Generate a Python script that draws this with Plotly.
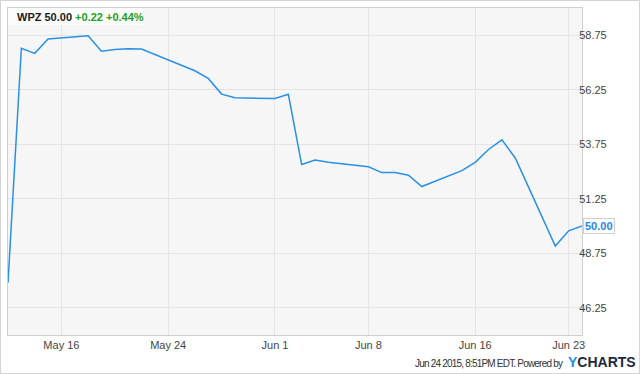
import plotly.graph_objects as go

dates = ["2015-05-12", "2015-05-13", "2015-05-14", "2015-05-15", "2015-05-18",
         "2015-05-19", "2015-05-20", "2015-05-21", "2015-05-22", "2015-05-26",
         "2015-05-27", "2015-05-28", "2015-05-29", "2015-06-01", "2015-06-02",
         "2015-06-03", "2015-06-04", "2015-06-05", "2015-06-08", "2015-06-09",
         "2015-06-10", "2015-06-11", "2015-06-12", "2015-06-15", "2015-06-16",
         "2015-06-17", "2015-06-18", "2015-06-19", "2015-06-22", "2015-06-23",
         "2015-06-24"]
prices = [47.40, 58.15, 57.92, 58.58, 58.73,
          58.02, 58.10, 58.13, 58.12, 57.12,
          56.77, 56.05, 55.88, 55.85, 56.04,
          52.82, 53.03, 52.92, 52.72, 52.45,
          52.45, 52.33, 51.81, 52.54, 52.92,
          53.51, 53.95, 53.12, 49.08, 49.78,
          50.00]

x_tick_vals = ["2015-05-16", "2015-05-24", "2015-06-01", "2015-06-08", "2015-06-16", "2015-06-23"]
x_tick_text = ["May 16", "May 24", "Jun 1", "Jun 8", "Jun 16", "Jun 23"]
y_tick_vals = [46.25, 48.75, 51.25, 53.75, 56.25, 58.75]
y_tick_text = ["46.25", "48.75", "51.25", "53.75", "56.25", "58.75"]

ticker = "WPZ"
last_price = "50.00"
change_text = "+0.22 +0.44%"
footer_text = "Jun 24 2015, 8:51PM EDT. Powered by"

FONT = "Liberation Sans, Arial, sans-serif"

fig = go.Figure()
fig.add_trace(go.Scatter(x=dates, y=prices, mode="lines",
                         line=dict(color="#2a90e6", width=1.5),
                         hoverinfo="skip", showlegend=False))

W, H = 640, 374
L, R, T, B = 8, 58, 8, 39
pw = W - L - R
ph = H - T - B

def px(xp):
    return (xp - L) / pw

def py(yp):
    return (H - B - yp) / ph

fig.update_layout(
    width=W, height=H,
    margin=dict(l=L, r=R, t=T, b=B, autoexpand=False),
    paper_bgcolor="white",
    plot_bgcolor="#f6f6f6",
    font=dict(family=FONT, size=11, color="#444"),
    xaxis=dict(type="date", range=[dates[0], dates[-1]],
               tickvals=x_tick_vals, ticktext=x_tick_text,
               showgrid=True, gridcolor="#e4e4e4", gridwidth=1,
               showline=True, linecolor="#cfcfcf", linewidth=1, mirror=True,
               ticks="", zeroline=False,
               tickfont=dict(size=11, color="#444", family=FONT)),
    yaxis=dict(range=[45, 60], side="right",
               tickvals=y_tick_vals, ticktext=y_tick_text,
               showgrid=True, gridcolor="#e4e4e4", gridwidth=1,
               showline=True, linecolor="#cfcfcf", linewidth=1, mirror=True,
               ticks="", zeroline=False, ticklabelstandoff=-6,
               tickfont=dict(size=11, color="#444", family=FONT)),
    shapes=[
        dict(type="rect", xref="paper", yref="paper",
             x0=px(0.5), x1=px(639.5), y0=py(373.5), y1=py(0.5),
             line=dict(color="#d4d4d4", width=1), fillcolor="rgba(0,0,0,0)",
             layer="above"),
        dict(type="rect", xref="paper", yref="paper",
             x0=0, x1=px(143), y0=py(25), y1=1,
             line=dict(width=0), fillcolor="rgba(255,255,255,0.7)",
             layer="above"),
    ],
    annotations=[
        dict(xref="paper", yref="paper", x=px(15), y=py(16.5),
             xanchor="left", yanchor="middle", showarrow=False,
             text=f"<b>{ticker} {last_price}</b> <b><span style='color:#22a022'>{change_text}</span></b>",
             font=dict(family=FONT, size=11, color="#1a1a1a")),
        dict(xref="paper", yref="y", x=1, y=float(last_price),
             xanchor="left", yanchor="middle", showarrow=False,
             xshift=1,
             text=f"<b>{last_price}</b>",
             font=dict(family=FONT, size=11, color="#1e88e5"),
             bgcolor="white", bordercolor="#cfcfcf", borderwidth=1, borderpad=1),
        dict(xref="paper", yref="paper", x=px(565), y=py(363),
             xanchor="right", yanchor="middle", showarrow=False,
             text=f"<span style='letter-spacing:-0.8px'>{footer_text}</span>",
             font=dict(family=FONT, size=10, color="#333")),
        dict(xref="paper", yref="paper", x=px(566), y=py(362),
             xanchor="left", yanchor="middle", showarrow=False,
             text="<b><span style='color:#1e8fe6'>Y</span>CHARTS</b>",
             font=dict(family=FONT, size=14, color="#1c2940")),
    ],
)

fig.write_html("out.html",
               config={"displayModeBar": False},
               post_script="document.body.style.margin='0';document.body.style.padding='0';")
